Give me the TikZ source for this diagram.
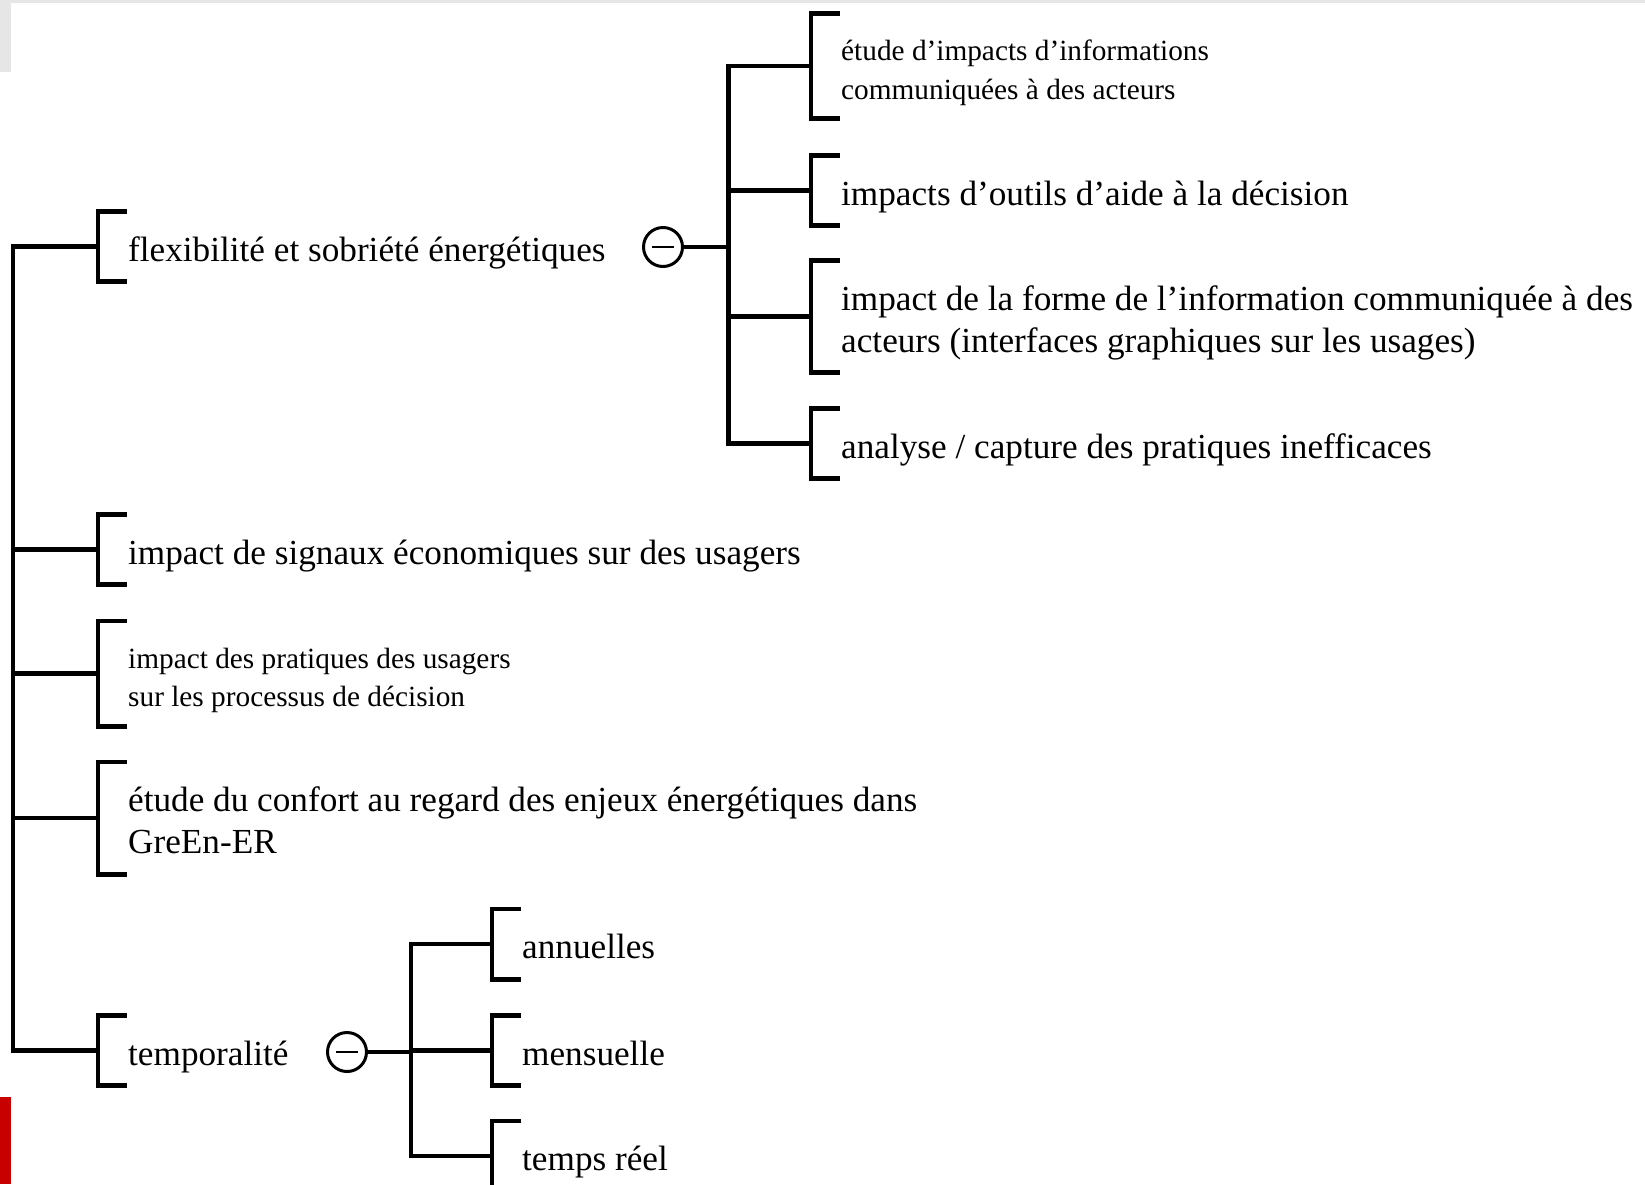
\documentclass[tikz,border=0pt]{standalone}
\usepackage{fontspec}
\setmainfont{Liberation Serif}

% each line gets a fixed box: a strut plus the smashed words
\newcommand\bigline[1]{\rule[-6.5pt]{0pt}{42pt}\smash{#1}}
\newcommand\smallline[1]{\rule[-5.5pt]{0pt}{38.5pt}\smash{#1}}

\definecolor{edgegrey}{HTML}{E6E6E6}
\definecolor{markred}{HTML}{C80000}

\tikzset{
  branch/.style={line width=4.6pt, line join=miter},
  bigtopic/.style={anchor=west, inner xsep=0pt, inner ysep=14pt, align=left,
    font=\fontsize{35.2}{42}\selectfont},
  smalltopic/.style={anchor=west, inner xsep=0pt, inner ysep=14pt, align=left,
    font=\fontsize{29.3}{38.5}\selectfont},
  fold/.style={circle, draw, line width=3pt, minimum size=39pt, inner sep=0pt},
  foldbar/.style={line width=2pt},
}

% square bracket drawn on the left side of a topic
\newcommand\topicbracket[1]{%
  \draw[branch] ([xshift=-1pt]#1.north west) -- ([xshift=-30pt]#1.north west)
    -- ([xshift=-30pt]#1.south west) -- ([xshift=-1pt]#1.south west);}

\begin{document}
\begin{tikzpicture}[x=1pt,y=-1pt]
\useasboundingbox (0,0) rectangle (1645,1184);

% frame remnants
\fill[edgegrey] (0,0) rectangle (1645,2.5);
\fill[edgegrey] (0,0) rectangle (11,72);
\fill[markred] (0,1097) rectangle (11,1184);

% first level topics
\node[bigtopic] (flex) at (128,246.5) {\bigline{flexibilité et sobriété énergétiques}};
\node[bigtopic] (signaux) at (128,549.5) {\bigline{impact de signaux économiques sur des usagers}};
\node[smalltopic] (pratiques) at (128,673.5) {\smallline{impact des pratiques des usagers}\\\smallline{sur les processus de décision}};
\node[bigtopic] (confort) at (128,818) {\bigline{étude du confort au regard des enjeux énergétiques dans}\\\bigline{GreEn-ER}};
\node[bigtopic] (tempo) at (128,1050.5) {\bigline{temporalité}};

% collapse markers
\node[fold] (foldflex) at (663,247) {};
\node[fold] (foldtempo) at (347,1052) {};
\draw[foldbar] ([xshift=-11pt]foldflex.center) -- ([xshift=11pt]foldflex.center);
\draw[foldbar] ([xshift=-11pt]foldtempo.center) -- ([xshift=11pt]foldtempo.center);

% second level under flexibilité
\node[smalltopic] (infos) at (841,66) {\smallline{étude d’impacts d’informations}\\\smallline{communiquées à des acteurs}};
\node[bigtopic] (outils) at (841,190.5) {\bigline{impacts d’outils d’aide à la décision}};
\node[bigtopic] (forme) at (841,316.5) {\bigline{impact de la forme de l’information communiquée à des}\\\bigline{acteurs (interfaces graphiques sur les usages)}};
\node[bigtopic] (ineff) at (841,443.5) {\bigline{analyse / capture des pratiques inefficaces}};

% second level under temporalité
\node[bigtopic] (annu) at (522,944) {\bigline{annuelles}};
\node[bigtopic] (mens) at (522,1050.5) {\bigline{mensuelle}};
\node[bigtopic] (reel) at (522,1156) {\bigline{temps réel}};

% brackets
\foreach \n in {flex,signaux,pratiques,confort,tempo,infos,outils,forme,ineff,annu,mens,reel}
  {\topicbracket{\n}}

% trunks
\coordinate (trunk) at (13,0);
\coordinate (jflex) at (728.5,0);
\coordinate (jtempo) at (411,0);

% first level connectors
\draw[branch] ([xshift=-30pt]flex.west) -| (trunk |- tempo.west) -- ([xshift=-30pt]tempo.west);
\foreach \n in {signaux,pratiques,confort}
  {\draw[branch] (trunk |- \n.west) -- ([xshift=-30pt]\n.west);}

% connectors under flexibilité
\draw[branch] ([xshift=-30pt]infos.west) -| (jflex |- ineff.west) -- ([xshift=-30pt]ineff.west);
\foreach \n in {outils,forme}
  {\draw[branch] (jflex |- \n.west) -- ([xshift=-30pt]\n.west);}
\draw[branch] (foldflex.east) -- (jflex |- foldflex.east);

% connectors under temporalité
\draw[branch] ([xshift=-30pt]annu.west) -| (jtempo |- reel.west) -- ([xshift=-30pt]reel.west);
\draw[branch] (jtempo |- mens.west) -- ([xshift=-30pt]mens.west);
\draw[branch] (foldtempo.east) -- (jtempo |- foldtempo.east);
\end{tikzpicture}
\end{document}
